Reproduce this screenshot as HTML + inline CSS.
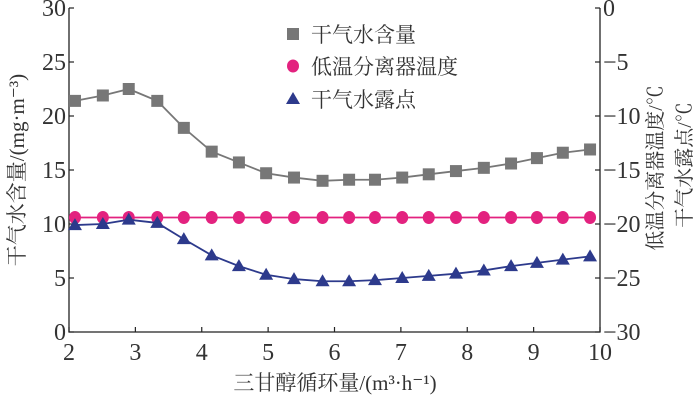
<!DOCTYPE html>
<html><head><meta charset="utf-8"><style>
html,body{margin:0;padding:0;background:#fff;}
svg{display:block;font-family:"Liberation Serif","Noto Serif CJK SC","Noto Sans CJK SC",serif;}
</style></head><body>
<svg id="chart" width="700" height="407" viewBox="0 0 700 407"></svg>
<script>
const xValues=[2.09,2.51,2.9,3.33,3.73,4.15,4.56,4.97,5.39,5.82,6.22,6.61,7.02,7.42,7.83,8.25,8.66,9.05,9.44,9.85];
const waterContent=[21.4,21.9,22.5,21.4,18.9,16.7,15.7,14.7,14.3,14.0,14.1,14.1,14.3,14.6,14.9,15.2,15.6,16.1,16.6,16.9];
const separatorTemp=[-19.4,-19.4,-19.4,-19.4,-19.4,-19.4,-19.4,-19.4,-19.4,-19.4,-19.4,-19.4,-19.4,-19.4,-19.4,-19.4,-19.4,-19.4,-19.4,-19.4];
const dewPoint=[-20.1,-20.0,-19.6,-19.9,-21.4,-22.9,-23.9,-24.7,-25.1,-25.3,-25.3,-25.2,-25.0,-24.8,-24.6,-24.3,-23.9,-23.6,-23.3,-23.0];
const xTicks=[2,3,4,5,6,7,8,9,10];
const leftTicks=[0,5,10,15,20,25,30];
const rightTicks=[0,-5,-10,-15,-20,-25,-30];

const X0=69,X1=600,Y0=332,Y1=8;
const sx=v=>X0+(v-2)/8*(X1-X0);
const syL=v=>Y0-v/30*(Y0-Y1);
const syR=v=>Y0-(v+30)/30*(Y0-Y1);
const svg=document.getElementById('chart');
const NS='http://www.w3.org/2000/svg';
function mk(tag,attrs,parent){const e=document.createElementNS(NS,tag);for(const k in attrs)e.setAttribute(k,attrs[k]);(parent||svg).appendChild(e);return e;}
function txt(s,attrs,parent){const e=mk('text',attrs,parent);e.textContent=s;return e;}

let a=mk('path',{d:`M${X0},${Y1}V${Y0}H${X1}V${Y1}`,fill:'none',stroke:'#222','stroke-width':1.3});


xTicks.forEach(t=>{const x=sx(t);
 const l=mk('line',{x1:x,x2:x,y1:Y0,y2:Y0-5,stroke:'#222','stroke-width':1.2});
 
 
 const tt=txt(t,{x:x,y:Y0+28,'font-size':24,'text-anchor':'middle',fill:'#333'});
 
 
});
leftTicks.forEach(t=>{const y=syL(t);
 const l=mk('line',{x1:X0,x2:X0+5,y1:y,y2:y,stroke:'#222','stroke-width':1.2});
 
 
 const tt=txt(t,{x:X0-3,y:y+8,'font-size':24,'text-anchor':'end',fill:'#333'});
 
 
});
rightTicks.forEach(t=>{const y=syR(t);
 const l=mk('line',{x1:X1,x2:X1-5,y1:y,y2:y,stroke:'#222','stroke-width':1.2});
 
 
 const tt=txt(t===0?'0':'\u2212'+Math.abs(t),{x:X1+3,y:y+8,'font-size':24,'text-anchor':'start',fill:'#333'});
 
 
});
let t1=txt('三甘醇循环量/(m³·h⁻¹)',{x:335,y:390,'font-size':21,'text-anchor':'middle',fill:'#333'});


let t2=txt('干气水含量/(mg·m⁻³)',{x:0,y:0,'font-size':21,'text-anchor':'middle',fill:'#333',transform:'translate(24,170) rotate(-90)'});


let t3=txt('低温分离器温度/℃',{x:0,y:0,'font-size':20,'text-anchor':'middle',fill:'#333',transform:'translate(662,168) rotate(-90)'});


let t4=txt('干气水露点/℃',{x:0,y:0,'font-size':20,'text-anchor':'middle',fill:'#333',transform:'translate(691,165) rotate(-90)'});



function series(vals,sy,color,shape,name){
 const g=mk('g',{});
 
 
 const d=vals.map((v,i)=>(i?'L':'M')+sx(xValues[i])+','+sy(v)).join('');
 mk('path',{d:d,fill:'none',stroke:color,'stroke-width':1.8},g);
 vals.forEach((v,i)=>{const m=marker(shape,sx(xValues[i]),sy(v),color,g);
  
  });
}
function marker(shape,x,y,color,g){
 if(shape==='sq')return mk('rect',{x:x-6,y:y-6,width:12,height:12,fill:color},g);
 if(shape==='ci')return mk('ellipse',{cx:x,cy:y,rx:6,ry:6.5,fill:color},g);
 return mk('path',{d:`M${x},${y-7}L${x+7},${y+5}L${x-7},${y+5}Z`,fill:color},g);
}
series(waterContent,syL,'#777','sq','water-content-series');
series(separatorTemp,syR,'#e3227f','ci','separator-temp-series');
series(dewPoint,syR,'#2d3a8c','tr','dew-point-series');

const leg=[['干气水含量','#777','sq',34],['低温分离器温度','#e3227f','ci',66],['干气水露点','#2d3a8c','tr',99]];
leg.forEach(l=>{const g=mk('g',{});
 
 
 marker(l[2],293,l[3],l[1],g);
 txt(l[0],{x:311,y:l[3]+8,'font-size':21,fill:'#333'},g);
});
</script>
</body></html>
